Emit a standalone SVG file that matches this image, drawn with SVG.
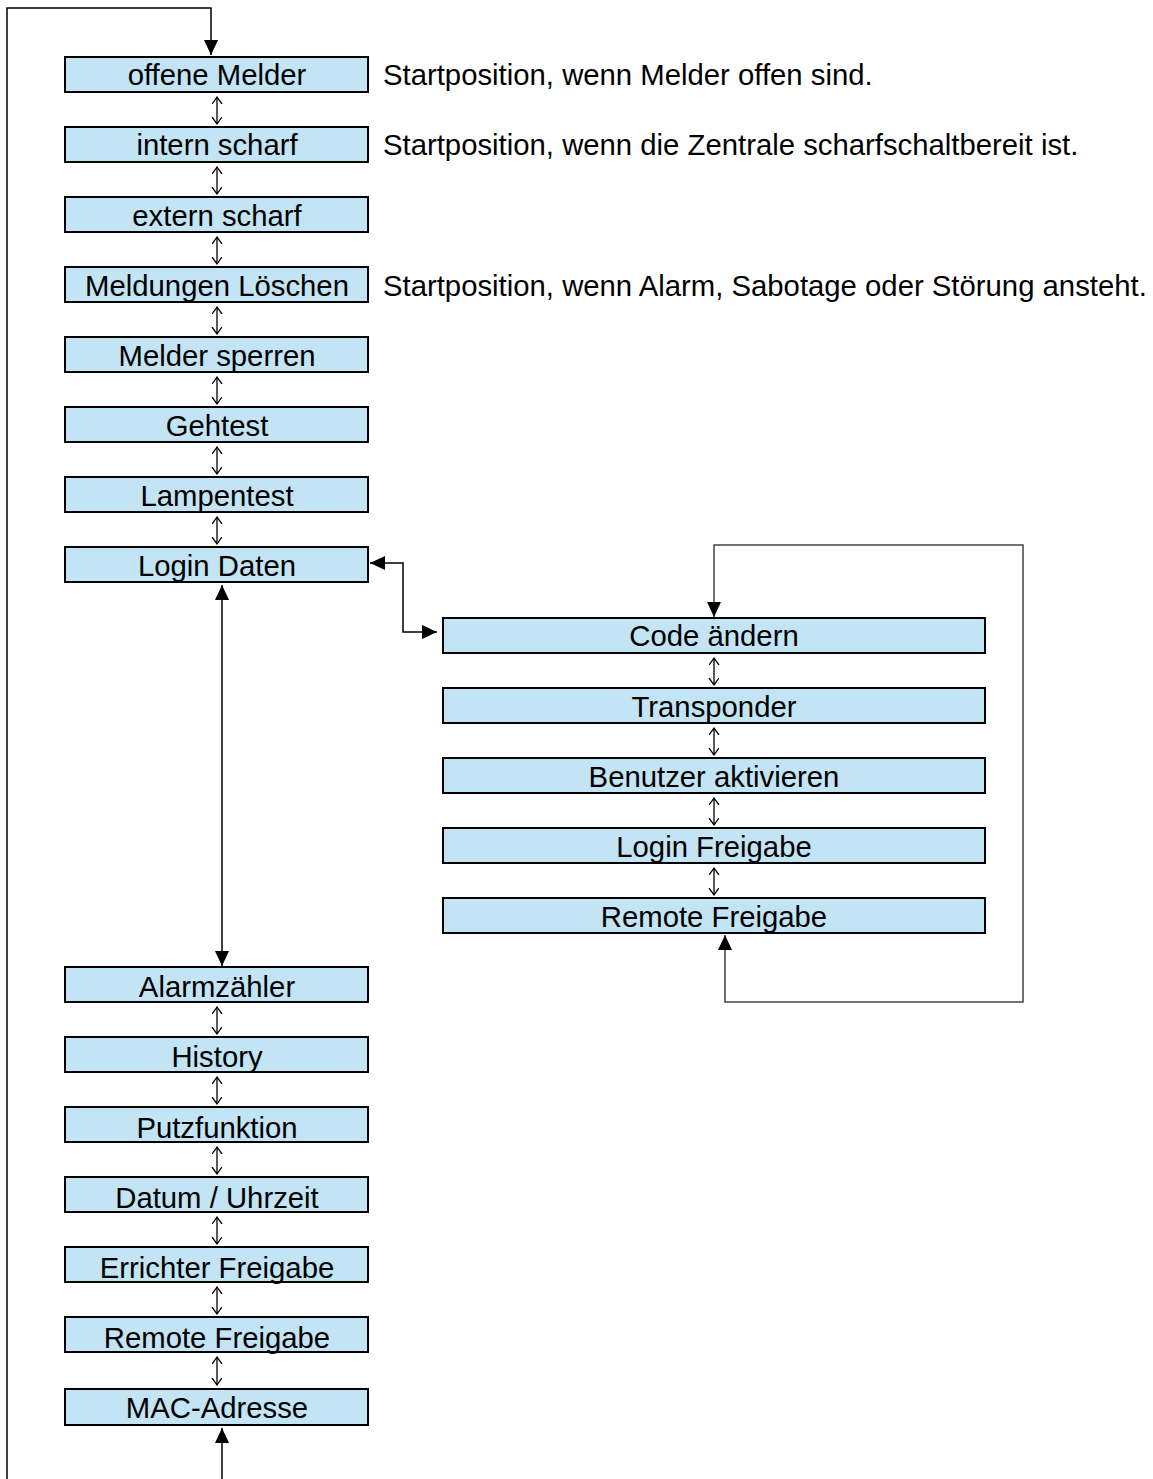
<svg xmlns="http://www.w3.org/2000/svg" width="1153" height="1479" viewBox="0 0 1153 1479">
<style>
.box{fill:#c2e4f4;stroke:#000;stroke-width:2}
.t{font-family:"Liberation Sans",Arial,sans-serif;font-size:29.3px;fill:#000;text-anchor:middle}
.a{font-family:"Liberation Sans",Arial,sans-serif;font-size:29.3px;fill:#000}
.c{fill:none;stroke:#000;stroke-width:1.5}
.g{fill:none;stroke:#444;stroke-width:1.5}
.s{fill:none;stroke:#000;stroke-width:1.3}
</style>
<defs>
<marker id="big" markerUnits="userSpaceOnUse" markerWidth="16" markerHeight="14" refX="15" refY="7" orient="auto-start-reverse">
<path d="M0,0 L15,7 L0,14 Z" fill="#000"/>
</marker>
<marker id="sm" markerUnits="userSpaceOnUse" markerWidth="10" markerHeight="12" refX="7" refY="5" orient="auto-start-reverse">
<path d="M0,0 L7,5 L0,10" fill="none" stroke="#000" stroke-width="1.3"/>
</marker>
</defs>
<g id="connectors">
<path class="c" d="M7,1479 L7,8 L211,8 L211,55" marker-end="url(#big)"/>
<path class="c" d="M222,1479 L222,1428" marker-end="url(#big)"/>
<path class="c" d="M222,585 L222,966" marker-start="url(#big)" marker-end="url(#big)"/>
<path class="c" d="M370,563 L403,563 L403,632 L437,632" marker-start="url(#big)" marker-end="url(#big)"/>
<path class="g" d="M725,935 L725,1002 L1023,1002 L1023,545 L714,545 L714,617" marker-start="url(#big)" marker-end="url(#big)"/>
<path class="s" d="M217,97 L217,124" marker-start="url(#sm)" marker-end="url(#sm)"/>
<path class="s" d="M217,167 L217,194" marker-start="url(#sm)" marker-end="url(#sm)"/>
<path class="s" d="M217,237 L217,264" marker-start="url(#sm)" marker-end="url(#sm)"/>
<path class="s" d="M217,307 L217,334" marker-start="url(#sm)" marker-end="url(#sm)"/>
<path class="s" d="M217,377 L217,404" marker-start="url(#sm)" marker-end="url(#sm)"/>
<path class="s" d="M217,447 L217,474" marker-start="url(#sm)" marker-end="url(#sm)"/>
<path class="s" d="M217,517 L217,544" marker-start="url(#sm)" marker-end="url(#sm)"/>
<path class="s" d="M217,1007 L217,1034" marker-start="url(#sm)" marker-end="url(#sm)"/>
<path class="s" d="M217,1077 L217,1104" marker-start="url(#sm)" marker-end="url(#sm)"/>
<path class="s" d="M217,1147 L217,1174" marker-start="url(#sm)" marker-end="url(#sm)"/>
<path class="s" d="M217,1217 L217,1244" marker-start="url(#sm)" marker-end="url(#sm)"/>
<path class="s" d="M217,1287 L217,1314" marker-start="url(#sm)" marker-end="url(#sm)"/>
<path class="s" d="M217,1357 L217,1385" marker-start="url(#sm)" marker-end="url(#sm)"/>
<path class="s" d="M714,658 L714,685" marker-start="url(#sm)" marker-end="url(#sm)"/>
<path class="s" d="M714,728 L714,755" marker-start="url(#sm)" marker-end="url(#sm)"/>
<path class="s" d="M714,798 L714,825" marker-start="url(#sm)" marker-end="url(#sm)"/>
<path class="s" d="M714,868 L714,895" marker-start="url(#sm)" marker-end="url(#sm)"/>
</g>
<g id="n1"><rect class="box" x="65" y="57" width="303" height="35"/><text class="t" x="217" y="85">offene Melder</text></g>
<g id="n2"><rect class="box" x="65" y="127" width="303" height="35"/><text class="t" x="217" y="155">intern scharf</text></g>
<g id="n3"><rect class="box" x="65" y="197" width="303" height="35"/><text class="t" x="217" y="226">extern scharf</text></g>
<g id="n4"><rect class="box" x="65" y="267" width="303" height="35"/><text class="t" x="217" y="296">Meldungen Löschen</text></g>
<g id="n5"><rect class="box" x="65" y="337" width="303" height="35"/><text class="t" x="217" y="366">Melder sperren</text></g>
<g id="n6"><rect class="box" x="65" y="407" width="303" height="35"/><text class="t" x="217" y="436">Gehtest</text></g>
<g id="n7"><rect class="box" x="65" y="477" width="303" height="35"/><text class="t" x="217" y="506">Lampentest</text></g>
<g id="n8"><rect class="box" x="65" y="547" width="303" height="35"/><text class="t" x="217" y="576">Login Daten</text></g>
<g id="n9"><rect class="box" x="65" y="967" width="303" height="35"/><text class="t" x="217" y="997">Alarmzähler</text></g>
<g id="n10"><rect class="box" x="65" y="1037" width="303" height="35"/><text class="t" x="217" y="1067">History</text></g>
<g id="n11"><rect class="box" x="65" y="1107" width="303" height="35"/><text class="t" x="217" y="1138">Putzfunktion</text></g>
<g id="n12"><rect class="box" x="65" y="1177" width="303" height="35"/><text class="t" x="217" y="1208">Datum / Uhrzeit</text></g>
<g id="n13"><rect class="box" x="65" y="1247" width="303" height="35"/><text class="t" x="217" y="1278">Errichter Freigabe</text></g>
<g id="n14"><rect class="box" x="65" y="1317" width="303" height="35"/><text class="t" x="217" y="1348">Remote Freigabe</text></g>
<g id="n15"><rect class="box" x="65" y="1389" width="303" height="36"/><text class="t" x="217" y="1418">MAC-Adresse</text></g>
<g id="r1"><rect class="box" x="443" y="618" width="542" height="35"/><text class="t" x="714" y="646">Code ändern</text></g>
<g id="r2"><rect class="box" x="443" y="688" width="542" height="35"/><text class="t" x="714" y="717">Transponder</text></g>
<g id="r3"><rect class="box" x="443" y="758" width="542" height="35"/><text class="t" x="714" y="787">Benutzer aktivieren</text></g>
<g id="r4"><rect class="box" x="443" y="828" width="542" height="35"/><text class="t" x="714" y="857">Login Freigabe</text></g>
<g id="r5"><rect class="box" x="443" y="898" width="542" height="35"/><text class="t" x="714" y="927">Remote Freigabe</text></g>
<g id="notes">
<text class="a" x="383" y="85">Startposition, wenn Melder offen sind.</text>
<text class="a" x="383" y="155">Startposition, wenn die Zentrale scharfschaltbereit ist.</text>
<text class="a" x="383" y="296">Startposition, wenn Alarm, Sabotage oder Störung ansteht.</text>
</g>
</svg>
